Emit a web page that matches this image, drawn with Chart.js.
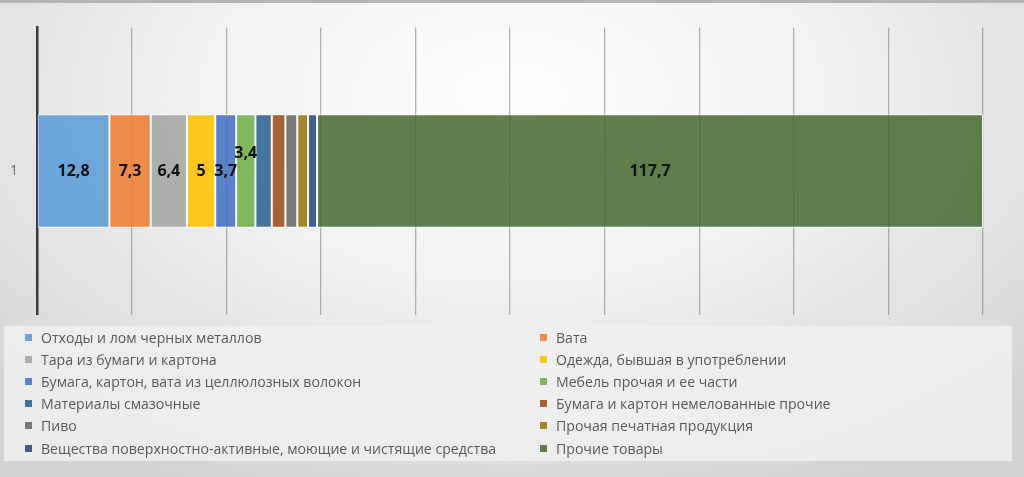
<!DOCTYPE html>
<html>
<head>
<meta charset="utf-8">
<script src="https://cdn.jsdelivr.net/npm/chart.js@4"></script>
<style>
  html, body { margin: 0; padding: 0; }
  body {
    width: 1024px; height: 477px; overflow: hidden; position: relative;
    background: radial-gradient(ellipse 70% 90% at 50% 20%, #ffffff 0%, #f1f1f1 45%, #d4d4d4 100%);
    font-family: "Open Sans", "Noto Sans", sans-serif;
  }
  #topline { position: absolute; left: 0; top: 0; width: 1024px; height: 3px; background: #b4b4b4; }
  #c { position: absolute; left: 0; top: 0; display: block; }
  #legend {
    position: absolute; left: 4px; top: 326px; width: 1008px; height: 135px;
    background: rgba(240,240,240,0.85);
    display: grid; grid-template-columns: 509px 499px; grid-auto-rows: 22.2px;
    box-sizing: border-box;
  }
  .item { display: flex; align-items: center; color: #595959; font-size: 14.1px; white-space: nowrap; }
  .item span.sw { display: inline-block; width: 7px; height: 7px; margin-right: 9px; }
  .item.l { padding-left: 21px; }
  .item.r { padding-left: 27px; }
</style>
</head>
<body>
<div id="topline"></div>
<canvas id="c" width="1024" height="342" style="width:1024px;height:342px"></canvas>
<div id="legend"></div>
<script>
const categories = ["1"];
const seriesNames = [
  "Отходы и лом черных металлов",
  "Вата",
  "Тара из бумаги и картона",
  "Одежда, бывшая в употреблении",
  "Бумага, картон, вата из целлюлозных волокон",
  "Мебель прочая и ее части",
  "Материалы смазочные",
  "Бумага и картон немелованные прочие",
  "Пиво",
  "Прочая печатная продукция",
  "Вещества поверхностно-активные, моющие и чистящие средства",
  "Прочие товары"
];
const seriesValues = [12.8, 7.3, 6.4, 5, 3.7, 3.4, 2.9, 2.4, 2.1, 1.9, 1.6, 117.7];
const shownLabels = [true, true, true, true, true, true, false, false, false, false, false, true];
const seriesColors = [
  "rgba(91,155,213,0.88)", "rgba(237,125,49,0.88)", "rgba(165,165,165,0.88)", "rgba(255,192,0,0.88)",
  "rgba(68,114,196,0.88)", "rgba(112,173,71,0.88)", "rgba(37,94,145,0.85)", "rgba(158,72,14,0.85)",
  "rgba(99,99,99,0.85)", "rgba(153,115,0,0.85)", "rgba(38,68,120,0.85)", "rgba(67,104,43,0.85)"
];

const total = seriesValues.reduce((a, b) => a + b, 0);

const valueLabels = {
  id: "valueLabels",
  afterDatasetsDraw(chart) {
    const ctx = chart.ctx;
    ctx.save();
    ctx.font = "bold 16px 'Open Sans', sans-serif";
    ctx.fillStyle = "#111";
    ctx.textAlign = "center";
    ctx.textBaseline = "middle";
    chart.data.datasets.forEach((ds, i) => {
      if (!shownLabels[i]) return;
      const bar = chart.getDatasetMeta(i).data[0];
      const x = (bar.x + bar.base) / 2;
      let y = bar.y;
      if (i === 5) y -= 18; // в оригинале подпись сдвинута вверх
      ctx.fillText(String(ds.data[0]).replace(".", ","), x, y);
    });
    ctx.restore();
  }
};

const chart = new Chart(document.getElementById("c"), {
  type: "bar",
  data: {
    labels: categories,
    datasets: seriesNames.map((name, i) => ({
      label: name,
      data: [seriesValues[i]],
      backgroundColor: seriesColors[i],
      borderColor: "rgba(255,255,255,0.9)",
      borderWidth: 1,
      borderSkipped: false,
      barPercentage: 1,
      categoryPercentage: 0.395
    }))
  },
  options: {
    indexAxis: "y",
    responsive: false,
    animation: false,
    devicePixelRatio: 1,
    layout: { padding: { top: 21, bottom: 6, right: 41, left: 0 } },
    plugins: { legend: { display: false }, tooltip: { enabled: false } },
    scales: {
      x: {
        stacked: true,
        min: 0,
        max: total,
        ticks: { display: false, count: 11 },
        grid: { color: "rgba(120,120,120,0.55)", lineWidth: 1.3, drawTicks: false },
        border: { display: false },
        afterFit(scale) { scale.height = 0; }
      },
      y: {
        stacked: true,
        grid: { display: false, drawTicks: false },
        border: { display: true, color: "#3a3a3a", width: 2.5 },
        ticks: { color: "#6f6f6f", font: { size: 14, family: "'Open Sans', sans-serif" }, padding: 19 },
        afterFit(scale) { scale.width = 37; }
      }
    }
  },
  plugins: [valueLabels]
});

// легенда в две колонки, как в оригинале
const legendEl = document.getElementById("legend");
chart.options.plugins.legend.labels.generateLabels(chart).forEach((it, i) => {
  const d = document.createElement("div");
  d.className = "item " + (i % 2 === 0 ? "l" : "r");
  const sw = document.createElement("span");
  sw.className = "sw";
  sw.style.background = it.fillStyle;
  d.appendChild(sw);
  d.appendChild(document.createTextNode(it.text));
  legendEl.appendChild(d);
});
</script>
</body>
</html>
